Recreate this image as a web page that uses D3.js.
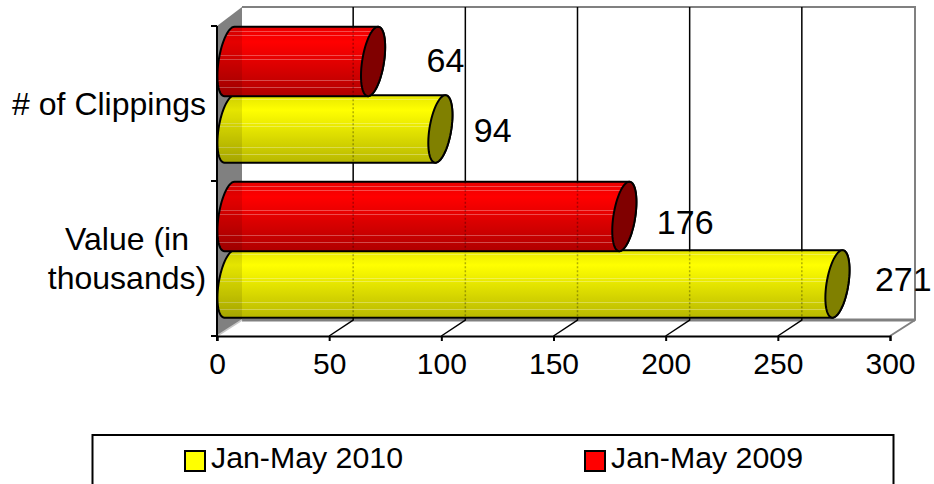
<!DOCTYPE html>
<html>
<head>
<meta charset="utf-8">
<script src="https://cdn.jsdelivr.net/npm/d3@7"></script>
<style>
  html, body { margin: 0; padding: 0; background: #fff; overflow: hidden; }
  svg { display: block; }
  text { font-family: "Liberation Sans", Arial, sans-serif; fill: #000; }
</style>
</head>
<body>
<div id="chart"></div>
<script>
  const categories = ['# of Clippings', 'Value (in thousands)'];
  const values2010 = [94, 271];
  const values2009 = [64, 176];
  const xTicks = [0, 50, 100, 150, 200, 250, 300];
  const seriesNames = ['Jan-May 2010', 'Jan-May 2009'];

  const WIDTH = 934;
  const HEIGHT = 484;
  const DEPTH_X = 25;
  const DEPTH_Y = 16;
  const GRID_X = 24;
  const CAP_A = 11;
  const CAP_SHEAR = 5;
  const GRAY = '#808080';

  const x = d3.scaleLinear().domain([0, 300]).range([217, 890]);
  const y = d3.scaleBand().domain(categories).range([26, 336]);
  // red sits above yellow inside each category
  const inner = d3.scaleBand().domain([seriesNames[1], seriesNames[0]]).range([0.7, 137.7]);

  const svg = d3.select('#chart').append('svg')
    .attr('width', WIDTH)
    .attr('height', HEIGHT);

  const defs = svg.append('defs');

  function addGradient(id, dim, bright, dark) {
    const g = defs.append('linearGradient')
      .attr('id', id)
      .attr('x1', 0).attr('y1', 0).attr('x2', 0).attr('y2', 1);
    g.append('stop').attr('offset', 0).attr('stop-color', dim);
    g.append('stop').attr('offset', 0.22).attr('stop-color', bright);
    g.append('stop').attr('offset', 1).attr('stop-color', dark);
  }
  addGradient('redBar', '#ea0000', '#ff0000', '#b00000');
  addGradient('yellowBar', '#e6e600', '#ffff00', '#b8b800');

  // thin pale streaks that run along the cylinders
  const streaks = [0.07, 0.13, 0.42, 0.47, 0.78, 0.88];
  const streakGrad = defs.append('linearGradient')
    .attr('id', 'streak')
    .attr('x1', 0).attr('y1', 0).attr('x2', 0).attr('y2', 1);
  streaks.forEach(function (f) {
    [[f - 0.007, 0], [f - 0.007, 0.3], [f + 0.007, 0.3], [f + 0.007, 0]].forEach(function (s) {
      streakGrad.append('stop')
        .attr('offset', s[0])
        .attr('stop-color', '#fff')
        .attr('stop-opacity', s[1]);
    });
  });

  /* Walls and floor */
  const x0 = x(0);
  const x1 = x(300);
  const yTop = y.range()[0];
  const yBottom = y.range()[1];
  const backTop = yTop - 19;

  svg.append('polygon')
    .attr('points', [[x0, yTop], [x0 + DEPTH_X, backTop], [x0 + DEPTH_X, yBottom - DEPTH_Y], [x0, yBottom]].join(' '))
    .attr('fill', GRAY);

  svg.append('path')
    .attr('d', 'M' + [x0 + DEPTH_X, backTop] + 'H' + (x1 + DEPTH_X) + 'V' + (yBottom - DEPTH_Y) + 'L' + [x1, yBottom])
    .attr('fill', 'none')
    .attr('stroke', GRAY)
    .attr('stroke-width', 2);

  svg.append('line')
    .attr('x1', x0 + DEPTH_X).attr('x2', x1 + DEPTH_X)
    .attr('y1', yBottom - DEPTH_Y).attr('y2', yBottom - DEPTH_Y)
    .attr('stroke', GRAY)
    .attr('stroke-width', 3);

  svg.append('line')
    .attr('x1', x0).attr('y1', yBottom)
    .attr('x2', x0 + DEPTH_X).attr('y2', yBottom - DEPTH_Y)
    .attr('stroke', '#c8c8c8')
    .attr('stroke-width', 1.5);

  /* Gridlines on back wall and floor */
  const inside = xTicks.slice(1, -1);
  svg.selectAll('.grid')
    .data(inside)
    .enter().append('path')
    .attr('class', 'grid')
    .attr('d', function (d) {
      return 'M' + [x(d), yBottom] + 'L' + [x(d) + GRID_X, yBottom - DEPTH_Y] + 'V' + backTop;
    })
    .attr('fill', 'none')
    .attr('stroke', '#000')
    .attr('stroke-width', 1.5);

  /* Axes */
  const xAxis = d3.axisBottom(x).tickValues(xTicks).tickSize(5).tickPadding(12);
  const xG = svg.append('g')
    .attr('transform', 'translate(0,' + yBottom + ')')
    .call(xAxis);
  xG.select('.domain').attr('stroke', '#000').attr('stroke-width', 2);
  xG.selectAll('.tick line').attr('stroke', '#000').attr('stroke-width', 2);
  xG.selectAll('text').attr('font-size', 30).attr('font-family', null);

  svg.append('line')
    .attr('x1', x0).attr('x2', x0)
    .attr('y1', yTop).attr('y2', yBottom + 5)
    .attr('stroke', '#000')
    .attr('stroke-width', 2);

  svg.selectAll('.ytick')
    .data(categories.map(function (c) { return y(c); }).concat(yBottom))
    .enter().append('line')
    .attr('class', 'ytick')
    .attr('x1', x0 - 6).attr('x2', x0)
    .attr('y1', function (d) { return d; })
    .attr('y2', function (d) { return d; })
    .attr('stroke', '#000')
    .attr('stroke-width', 2);

  /* Cylinders */
  function capPoint(cx, cy, b, t) {
    return [cx + CAP_A * Math.cos(t) - CAP_SHEAR * Math.sin(t), cy + b * Math.sin(t)];
  }

  let clipCount = 0;

  function cylinder(value, top, height, fill, capFill) {
    const b = height / 2;
    const cy = top + b;
    const left = x(0) + DEPTH_X / 2;
    const right = x(value) + DEPTH_X / 2;
    const steps = 30;
    const pts = [];
    d3.range(steps + 1).forEach(function (i) {
      pts.push(capPoint(left, cy, b, -Math.PI / 2 - Math.PI * i / steps));
    });
    d3.range(steps + 1).forEach(function (i) {
      pts.push(capPoint(right, cy, b, Math.PI / 2 - Math.PI * i / steps));
    });
    const body = d3.line()(pts) + 'Z';

    svg.append('path')
      .attr('d', body)
      .attr('fill', 'url(#' + fill + ')');
    svg.append('path')
      .attr('d', body)
      .attr('fill', 'url(#streak)');

    // wall edge and gridlines show faintly through the bar
    clipCount += 1;
    const clipId = 'body' + clipCount;
    defs.append('clipPath').attr('id', clipId).append('path').attr('d', body);
    const through = svg.append('g').attr('clip-path', 'url(#' + clipId + ')');
    through.append('rect')
      .attr('x', x0).attr('y', top)
      .attr('width', DEPTH_X).attr('height', height)
      .attr('fill', '#000')
      .attr('opacity', 0.1);
    through.selectAll('line')
      .data(inside)
      .enter().append('line')
      .attr('x1', function (d) { return x(d) + GRID_X; })
      .attr('x2', function (d) { return x(d) + GRID_X; })
      .attr('y1', top).attr('y2', top + height)
      .attr('stroke', '#000')
      .attr('stroke-width', 1.5)
      .attr('stroke-dasharray', '2 2')
      .attr('opacity', 0.3);

    svg.append('path')
      .attr('d', body)
      .attr('fill', 'none')
      .attr('stroke', '#000')
      .attr('stroke-width', 2);

    const cap = d3.range(60).map(function (i) {
      return capPoint(right, cy, b, 2 * Math.PI * i / 60);
    });
    svg.append('path')
      .attr('d', d3.line()(cap) + 'Z')
      .attr('fill', capFill)
      .attr('stroke', '#000')
      .attr('stroke-width', 2);
  }

  // drawn bottom up, so each red bar overlaps the top edge of its yellow one
  categories.slice().reverse().forEach(function (c) {
    const i = categories.indexOf(c);
    cylinder(values2010[i], y(c) + inner(seriesNames[0]), inner.bandwidth() - 1, 'yellowBar', '#808000');
    cylinder(values2009[i], y(c) + inner(seriesNames[1]), inner.bandwidth() + 1, 'redBar', '#800000');
  });

  /* Data labels */
  const labelFont = 34;
  const labelValues = [values2009[0], values2010[0], values2009[1], values2010[1]];
  const labelGap = [66, 46, 45, 50];
  const labelBase = [72, 142, 234, 291];
  svg.selectAll('.value')
    .data(labelValues)
    .enter().append('text')
    .attr('class', 'value')
    .attr('x', function (d, i) { return x(d) + labelGap[i]; })
    .attr('y', function (d, i) { return labelBase[i]; })
    .attr('font-size', labelFont)
    .text(function (d) { return d; });

  /* Category labels */
  svg.append('text')
    .attr('x', 206).attr('y', 115)
    .attr('text-anchor', 'end')
    .attr('font-size', 32)
    .text(categories[0]);

  svg.append('text')
    .attr('x', 127).attr('y', 250)
    .attr('text-anchor', 'middle')
    .attr('font-size', 32)
    .text('Value (in');

  svg.append('text')
    .attr('x', 127).attr('y', 289)
    .attr('text-anchor', 'middle')
    .attr('font-size', 32)
    .text('thousands)');

  /* Legend */
  svg.append('rect')
    .attr('x', 92.5).attr('y', 435)
    .attr('width', 801).attr('height', 60)
    .attr('fill', '#fff')
    .attr('stroke', '#000')
    .attr('stroke-width', 2);

  const legendX = [185, 585];
  const legendFill = ['#ffff00', '#ff0000'];
  seriesNames.forEach(function (name, i) {
    svg.append('rect')
      .attr('x', legendX[i]).attr('y', 451)
      .attr('width', 20).attr('height', 20)
      .attr('fill', legendFill[i])
      .attr('stroke', '#000')
      .attr('stroke-width', 2);
    svg.append('text')
      .attr('x', legendX[i] + 26).attr('y', 468)
      .attr('font-size', 30.3)
      .text(name);
  });
</script>
</body>
</html>
